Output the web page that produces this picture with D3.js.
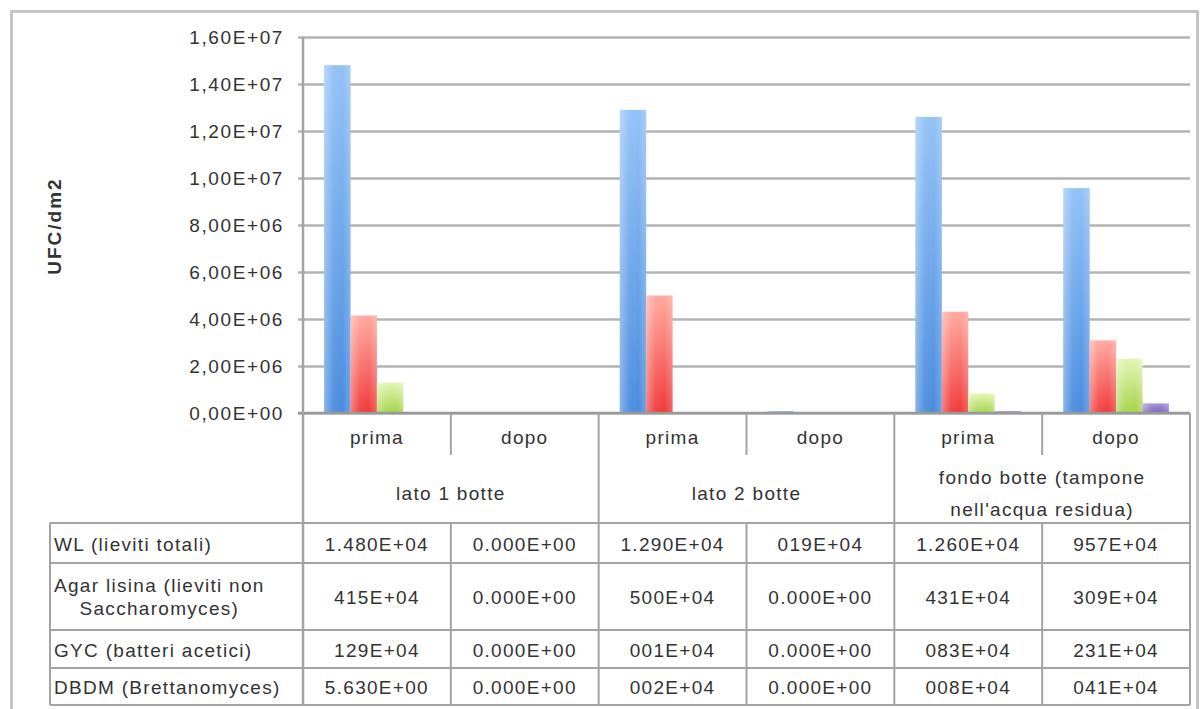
<!DOCTYPE html>
<html>
<head>
<meta charset="utf-8">
<script src="https://cdn.jsdelivr.net/npm/d3@7"></script>
<style>
  html, body { margin: 0; padding: 0; background: #fff; }
  svg { display: block; }
  text { font-family: "Liberation Sans", Arial, Helvetica, sans-serif; fill: #333; }
</style>
</head>
<body>
<svg id="chart" width="1204" height="709"></svg>
<script>
// ---------------- DATA ----------------
const groups = ["lato 1 botte", "lato 2 botte", "fondo botte (tampone|nell'acqua residua)"];
const phases = ["prima", "dopo"];
const seriesNames = ["WL (lieviti totali)", "Agar lisina (lieviti non|Saccharomyces)", "GYC (batteri acetici)", "DBDM (Brettanomyces)"];

// bar values (UFC/dm2), one per column: lato1 prima, lato1 dopo, lato2 prima, lato2 dopo, fondo prima, fondo dopo
const wlValues   = [1.48e7, 0, 1.29e7, 8.0e4, 1.26e7, 9.57e6];
const agarValues = [4.15e6, 0, 5.00e6, 0, 4.31e6, 3.09e6];
const gycValues  = [1.29e6, 0, 1.0e4, 0, 8.3e5, 2.31e6];
const dbdmValues = [5.63, 0, 2.0e4, 0, 8.0e4, 4.1e5];

// data table texts as printed
const wlText   = ["1.480E+04", "0.000E+00", "1.290E+04", "019E+04", "1.260E+04", "957E+04"];
const agarText = ["415E+04", "0.000E+00", "500E+04", "0.000E+00", "431E+04", "309E+04"];
const gycText  = ["129E+04", "0.000E+00", "001E+04", "0.000E+00", "083E+04", "231E+04"];
const dbdmText = ["5.630E+00", "0.000E+00", "002E+04", "0.000E+00", "008E+04", "041E+04"];

const yTicks = [0, 2e6, 4e6, 6e6, 8e6, 1e7, 1.2e7, 1.4e7, 1.6e7];
const yTickLabels = ["0,00E+00", "2,00E+06", "4,00E+06", "6,00E+06", "8,00E+06", "1,00E+07", "1,20E+07", "1,40E+07", "1,60E+07"];
const yTitle = "UFC/dm2";

// ---------------- LAYOUT ----------------
const seriesValues = [wlValues, agarValues, gycValues, dbdmValues];
const seriesText = [wlText, agarText, gycText, dbdmText];
const seriesKeys = ["wl", "agar", "gyc", "dbdm"];
const columns = [];
groups.forEach((g, gi) => phases.forEach((p, pi) => columns.push({ key: gi + "-" + pi, group: gi, phase: p })));

const svg = d3.select("#chart");
const plotLeft = 303, plotRight = 1190, plotTop = 37, plotBottom = 413;
const tableLeft = 50, tableTop = 523;
const rowBounds = [523, 563, 630, 668, 705];

svg.append("rect").attr("width", 1204).attr("height", 709).attr("fill", "#fff");
// outer frame
svg.append("rect").attr("x", 11.5).attr("y", 11.5).attr("width", 1186).attr("height", 720)
  .attr("fill", "none").attr("stroke", "#c4c4c4").attr("stroke-width", 3);

const x0 = d3.scaleBand().domain(columns.map(c => c.key)).range([plotLeft, plotRight]).padding(0);
const x1 = d3.scaleBand().domain(seriesKeys).range([0, x0.bandwidth()]).paddingInner(0).paddingOuter(0.8);
const y = d3.scaleLinear().domain([0, 1.6e7]).range([plotBottom, plotTop]);

// gradients
const defs = svg.append("defs");
const gradSpecs = {
  wl:   ["#93c2f6", "#4a8cde"],
  agar: ["#ffaaa0", "#f03a3a"],
  gyc:  ["#e2f5b4", "#a3d447"],
  dbdm: ["#a497d6", "#7a62b6"]
};
Object.entries(gradSpecs).forEach(([k, [top, bot]]) => {
  const g = defs.append("linearGradient").attr("id", "g-" + k).attr("x1", 0).attr("y1", 0).attr("x2", 0).attr("y2", 1);
  g.append("stop").attr("offset", "0%").attr("stop-color", top);
  g.append("stop").attr("offset", "100%").attr("stop-color", bot);
});
const gloss = defs.append("linearGradient").attr("id", "gloss").attr("x1", 0).attr("y1", 0).attr("x2", 1).attr("y2", 0);
gloss.append("stop").attr("offset", "0%").attr("stop-color", "#fff").attr("stop-opacity", 0.35);
gloss.append("stop").attr("offset", "35%").attr("stop-color", "#fff").attr("stop-opacity", 0.05);
gloss.append("stop").attr("offset", "70%").attr("stop-color", "#fff").attr("stop-opacity", 0);
gloss.append("stop").attr("offset", "100%").attr("stop-color", "#fff").attr("stop-opacity", 0.2);

// gridlines + y axis ticks
const yAxis = d3.axisLeft(y).tickValues(yTicks).tickSize(-(plotRight - plotLeft)).tickPadding(20)
  .tickFormat((d, i) => yTickLabels[i]);
const yg = svg.append("g").attr("transform", `translate(${plotLeft},0)`).call(yAxis);
yg.select(".domain").remove();
yg.selectAll(".tick line").attr("stroke", "#b3b3b3").attr("stroke-width", 2.5).attr("x1", -5);
yg.selectAll(".tick text").attr("font-size", 19).attr("letter-spacing", 1.6).attr("fill", "#3a3a3a")
  .attr("font-family", "Liberation Sans, Arial, sans-serif").attr("x", -19);

// y title
svg.append("text").attr("transform", `translate(61,226) rotate(-90)`).attr("text-anchor", "middle")
  .attr("font-size", 19).attr("font-weight", "bold").attr("letter-spacing", 2).attr("fill", "#222").text(yTitle);

// bars
const barG = svg.append("g");
seriesKeys.forEach((k, si) => {
  const vals = seriesValues[si];
  const sel = barG.selectAll(".bar-" + k).data(columns.map((c, ci) => ({ c, v: vals[ci] }))).enter();
  sel.append("rect")
    .attr("x", d => x0(d.c.key) + x1(k)).attr("width", x1.bandwidth())
    .attr("y", d => y(d.v)).attr("height", d => y(0) - y(d.v))
    .attr("fill", `url(#g-${k})`);
  sel.append("rect")
    .attr("x", d => x0(d.c.key) + x1(k)).attr("width", x1.bandwidth())
    .attr("y", d => y(d.v)).attr("height", d => y(0) - y(d.v))
    .attr("fill", "url(#gloss)");
});

// axis lines
const lineColor = "#a3a3a3";
svg.append("line").attr("x1", plotLeft - 5).attr("x2", plotRight).attr("y1", plotBottom).attr("y2", plotBottom)
  .attr("stroke", "#999").attr("stroke-width", 2.5);
svg.append("line").attr("x1", plotLeft).attr("x2", plotLeft).attr("y1", plotTop).attr("y2", rowBounds[4])
  .attr("stroke", lineColor).attr("stroke-width", 2.5);

// category separators
columns.forEach((c, ci) => {
  const xr = x0(c.key) + x0.bandwidth();
  const isGroupEnd = c.phase === "dopo";
  svg.append("line").attr("x1", xr).attr("x2", xr).attr("y1", plotBottom)
    .attr("y2", isGroupEnd ? rowBounds[4] : 455)
    .attr("stroke", lineColor).attr("stroke-width", 2);
  if (!isGroupEnd) {
    svg.append("line").attr("x1", xr).attr("x2", xr).attr("y1", tableTop).attr("y2", rowBounds[4])
      .attr("stroke", lineColor).attr("stroke-width", 2);
  }
});

const txtAttrs = sel => sel.attr("font-size", 19).attr("letter-spacing", 1.3).attr("fill", "#3a3a3a")
  .attr("dominant-baseline", "central");

// phase labels
svg.append("g").selectAll("text").data(columns).enter().append("text")
  .attr("x", d => x0(d.key) + x0.bandwidth() / 2).attr("y", 437).attr("text-anchor", "middle")
  .call(txtAttrs).text(d => d.phase);

// group labels
groups.forEach((g, gi) => {
  const lines = g.split("|");
  const cx = x0(gi + "-0");
  const center = cx + x0.bandwidth();
  const cy = 493, lh = 32;
  lines.forEach((ln, li) => {
    svg.append("text").attr("x", center).attr("y", cy + (li - (lines.length - 1) / 2) * lh)
      .attr("text-anchor", "middle").call(txtAttrs).text(ln);
  });
});

// table lines
rowBounds.forEach(yy => {
  svg.append("line").attr("x1", tableLeft).attr("x2", plotRight).attr("y1", yy).attr("y2", yy)
    .attr("stroke", lineColor).attr("stroke-width", 2);
});
svg.append("line").attr("x1", tableLeft).attr("x2", tableLeft).attr("y1", tableTop).attr("y2", rowBounds[4])
  .attr("stroke", lineColor).attr("stroke-width", 2);

// table row headers + values
seriesNames.forEach((name, si) => {
  const top = rowBounds[si], bot = rowBounds[si + 1];
  const cy = (top + bot) / 2;
  const lines = name.split("|");
  if (lines.length === 1) {
    svg.append("text").attr("x", 54).attr("y", cy + 1).call(txtAttrs).text(name);
  } else {
    const t0 = svg.append("text").attr("y", cy - 11).call(txtAttrs).attr("text-anchor", "middle").text(lines[0]);
    const w = t0.node().getComputedTextLength();
    const mid = 54 + w / 2;
    t0.attr("x", mid);
    svg.append("text").attr("x", mid).attr("y", cy + 12).attr("text-anchor", "middle").call(txtAttrs).text(lines[1]);
  }
  columns.forEach((c, ci) => {
    svg.append("text").attr("x", x0(c.key) + x0.bandwidth() / 2).attr("y", cy + 1)
      .attr("text-anchor", "middle").call(txtAttrs).text(seriesText[si][ci]);
  });
});
</script>
</body>
</html>
